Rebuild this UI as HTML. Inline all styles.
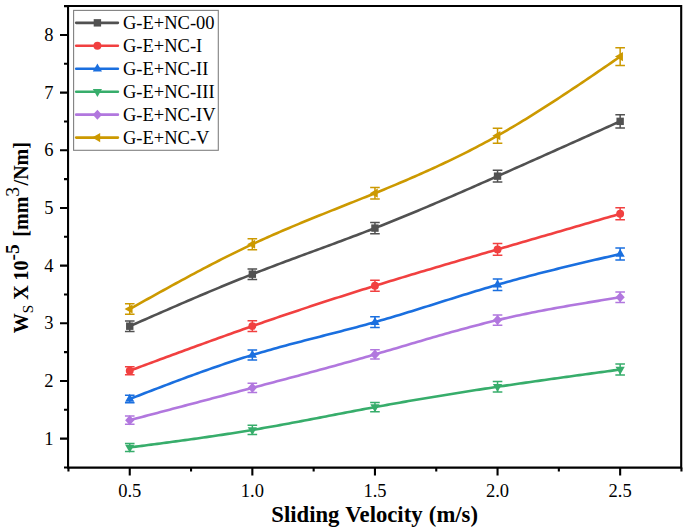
<!DOCTYPE html>
<html><head><meta charset="utf-8"><style>
html,body{margin:0;padding:0;background:#fff;}
body{width:685px;height:529px;overflow:hidden;font-family:"Liberation Serif", serif;}
svg{display:block;}
</style></head><body>
<svg width="685" height="529" viewBox="0 0 685 529">
<rect width="685" height="529" fill="#fff"/>
<path d="M129.75,326.20 L132.81,324.85 L135.88,323.50 L138.94,322.15 L142.01,320.81 L145.07,319.46 L148.14,318.11 L151.20,316.77 L154.27,315.43 L157.34,314.08 L160.40,312.74 L163.47,311.40 L166.53,310.07 L169.59,308.73 L172.66,307.40 L175.72,306.07 L178.79,304.75 L181.85,303.42 L184.92,302.10 L187.99,300.78 L191.05,299.47 L194.12,298.16 L197.18,296.85 L200.25,295.55 L203.31,294.25 L206.38,292.96 L209.44,291.67 L212.50,290.38 L215.57,289.10 L218.63,287.83 L221.70,286.56 L224.76,285.30 L227.83,284.04 L230.89,282.79 L233.96,281.54 L237.02,280.30 L240.09,279.07 L243.16,277.84 L246.22,276.62 L249.28,275.41 L252.35,274.20 L255.41,273.00 L258.48,271.81 L261.55,270.62 L264.61,269.44 L267.68,268.27 L270.74,267.10 L273.81,265.94 L276.87,264.78 L279.94,263.63 L283.00,262.48 L286.06,261.33 L289.13,260.19 L292.19,259.05 L295.26,257.91 L298.32,256.78 L301.39,255.65 L304.45,254.52 L307.52,253.39 L310.58,252.26 L313.65,251.13 L316.71,250.00 L319.78,248.87 L322.84,247.74 L325.91,246.61 L328.97,245.48 L332.04,244.35 L335.10,243.21 L338.17,242.07 L341.23,240.93 L344.30,239.79 L347.36,238.64 L350.43,237.49 L353.49,236.33 L356.56,235.18 L359.62,234.01 L362.69,232.84 L365.75,231.66 L368.82,230.48 L371.88,229.29 L374.95,228.10 L378.01,226.90 L381.08,225.69 L384.14,224.47 L387.21,223.25 L390.27,222.02 L393.34,220.79 L396.40,219.55 L399.47,218.30 L402.53,217.05 L405.60,215.79 L408.66,214.52 L411.73,213.26 L414.79,211.98 L417.86,210.70 L420.92,209.42 L423.99,208.13 L427.05,206.83 L430.12,205.53 L433.18,204.23 L436.25,202.92 L439.31,201.61 L442.38,200.30 L445.44,198.98 L448.51,197.66 L451.57,196.33 L454.64,195.00 L457.70,193.67 L460.77,192.34 L463.83,191.00 L466.90,189.66 L469.96,188.32 L473.03,186.97 L476.09,185.63 L479.16,184.28 L482.22,182.93 L485.29,181.57 L488.35,180.22 L491.42,178.86 L494.48,177.51 L497.55,176.15 L500.69,174.76 L503.84,173.36 L506.98,171.97 L510.12,170.57 L513.27,169.17 L516.41,167.78 L519.56,166.38 L522.70,164.98 L525.84,163.58 L528.99,162.18 L532.13,160.78 L535.27,159.38 L538.42,157.97 L541.56,156.57 L544.70,155.16 L547.85,153.76 L550.99,152.36 L554.13,150.95 L557.28,149.54 L560.42,148.14 L563.57,146.73 L566.71,145.32 L569.85,143.91 L573.00,142.51 L576.14,141.10 L579.28,139.69 L582.43,138.28 L585.57,136.87 L588.71,135.46 L591.86,134.05 L595.00,132.64 L598.14,131.23 L601.29,129.82 L604.43,128.41 L607.58,126.99 L610.72,125.58 L613.86,124.17 L617.01,122.76 L620.15,121.35" fill="none" stroke="#515151" stroke-width="2.6" stroke-linejoin="round" stroke-linecap="round"/>
<path d="M129.75,370.70 L132.81,369.56 L135.88,368.43 L138.94,367.29 L142.01,366.15 L145.07,365.02 L148.14,363.88 L151.20,362.74 L154.27,361.61 L157.34,360.48 L160.40,359.34 L163.47,358.21 L166.53,357.08 L169.59,355.95 L172.66,354.82 L175.72,353.69 L178.79,352.56 L181.85,351.44 L184.92,350.31 L187.99,349.19 L191.05,348.07 L194.12,346.95 L197.18,345.83 L200.25,344.71 L203.31,343.60 L206.38,342.49 L209.44,341.38 L212.50,340.27 L215.57,339.16 L218.63,338.06 L221.70,336.96 L224.76,335.86 L227.83,334.76 L230.89,333.67 L233.96,332.58 L237.02,331.49 L240.09,330.41 L243.16,329.33 L246.22,328.25 L249.28,327.17 L252.35,326.10 L255.41,325.03 L258.48,323.97 L261.55,322.90 L264.61,321.84 L267.68,320.79 L270.74,319.74 L273.81,318.69 L276.87,317.64 L279.94,316.60 L283.00,315.56 L286.06,314.52 L289.13,313.49 L292.19,312.46 L295.26,311.43 L298.32,310.41 L301.39,309.39 L304.45,308.37 L307.52,307.36 L310.58,306.34 L313.65,305.34 L316.71,304.33 L319.78,303.33 L322.84,302.33 L325.91,301.33 L328.97,300.34 L332.04,299.35 L335.10,298.36 L338.17,297.38 L341.23,296.40 L344.30,295.42 L347.36,294.45 L350.43,293.47 L353.49,292.50 L356.56,291.54 L359.62,290.57 L362.69,289.61 L365.75,288.66 L368.82,287.70 L371.88,286.75 L374.95,285.80 L378.01,284.85 L381.08,283.91 L384.14,282.97 L387.21,282.03 L390.27,281.09 L393.34,280.16 L396.40,279.23 L399.47,278.30 L402.53,277.38 L405.60,276.45 L408.66,275.53 L411.73,274.61 L414.79,273.69 L417.86,272.77 L420.92,271.86 L423.99,270.95 L427.05,270.04 L430.12,269.13 L433.18,268.22 L436.25,267.31 L439.31,266.41 L442.38,265.51 L445.44,264.60 L448.51,263.70 L451.57,262.80 L454.64,261.90 L457.70,261.01 L460.77,260.11 L463.83,259.22 L466.90,258.32 L469.96,257.43 L473.03,256.53 L476.09,255.64 L479.16,254.75 L482.22,253.86 L485.29,252.96 L488.35,252.07 L491.42,251.18 L494.48,250.29 L497.55,249.40 L500.69,248.49 L503.84,247.57 L506.98,246.66 L510.12,245.75 L513.27,244.83 L516.41,243.92 L519.56,243.01 L522.70,242.09 L525.84,241.18 L528.99,240.27 L532.13,239.35 L535.27,238.44 L538.42,237.53 L541.56,236.62 L544.70,235.70 L547.85,234.79 L550.99,233.88 L554.13,232.96 L557.28,232.05 L560.42,231.14 L563.57,230.23 L566.71,229.31 L569.85,228.40 L573.00,227.49 L576.14,226.58 L579.28,225.66 L582.43,224.75 L585.57,223.84 L588.71,222.93 L591.86,222.01 L595.00,221.10 L598.14,220.19 L601.29,219.28 L604.43,218.36 L607.58,217.45 L610.72,216.54 L613.86,215.63 L617.01,214.71 L620.15,213.80" fill="none" stroke="#F14040" stroke-width="2.6" stroke-linejoin="round" stroke-linecap="round"/>
<path d="M129.75,399.00 L132.81,397.81 L135.88,396.63 L138.94,395.45 L142.01,394.26 L145.07,393.08 L148.14,391.90 L151.20,390.72 L154.27,389.54 L157.34,388.37 L160.40,387.20 L163.47,386.03 L166.53,384.87 L169.59,383.71 L172.66,382.55 L175.72,381.40 L178.79,380.25 L181.85,379.11 L184.92,377.97 L187.99,376.84 L191.05,375.72 L194.12,374.60 L197.18,373.49 L200.25,372.39 L203.31,371.29 L206.38,370.20 L209.44,369.12 L212.50,368.05 L215.57,366.98 L218.63,365.93 L221.70,364.88 L224.76,363.84 L227.83,362.82 L230.89,361.80 L233.96,360.79 L237.02,359.80 L240.09,358.82 L243.16,357.84 L246.22,356.88 L249.28,355.94 L252.35,355.00 L255.41,354.08 L258.48,353.17 L261.55,352.27 L264.61,351.38 L267.68,350.50 L270.74,349.63 L273.81,348.78 L276.87,347.93 L279.94,347.09 L283.00,346.25 L286.06,345.43 L289.13,344.61 L292.19,343.80 L295.26,342.99 L298.32,342.19 L301.39,341.39 L304.45,340.59 L307.52,339.80 L310.58,339.01 L313.65,338.23 L316.71,337.44 L319.78,336.66 L322.84,335.88 L325.91,335.09 L328.97,334.31 L332.04,333.53 L335.10,332.74 L338.17,331.95 L341.23,331.16 L344.30,330.36 L347.36,329.56 L350.43,328.76 L353.49,327.95 L356.56,327.14 L359.62,326.32 L362.69,325.49 L365.75,324.65 L368.82,323.81 L371.88,322.96 L374.95,322.10 L378.01,321.23 L381.08,320.35 L384.14,319.46 L387.21,318.57 L390.27,317.66 L393.34,316.75 L396.40,315.84 L399.47,314.91 L402.53,313.98 L405.60,313.05 L408.66,312.11 L411.73,311.16 L414.79,310.21 L417.86,309.26 L420.92,308.30 L423.99,307.34 L427.05,306.38 L430.12,305.42 L433.18,304.46 L436.25,303.49 L439.31,302.53 L442.38,301.56 L445.44,300.59 L448.51,299.63 L451.57,298.67 L454.64,297.71 L457.70,296.75 L460.77,295.79 L463.83,294.84 L466.90,293.89 L469.96,292.94 L473.03,292.00 L476.09,291.07 L479.16,290.14 L482.22,289.22 L485.29,288.30 L488.35,287.39 L491.42,286.48 L494.48,285.59 L497.55,284.70 L500.69,283.80 L503.84,282.91 L506.98,282.02 L510.12,281.15 L513.27,280.28 L516.41,279.42 L519.56,278.57 L522.70,277.73 L525.84,276.89 L528.99,276.06 L532.13,275.24 L535.27,274.42 L538.42,273.61 L541.56,272.81 L544.70,272.01 L547.85,271.21 L550.99,270.43 L554.13,269.65 L557.28,268.87 L560.42,268.10 L563.57,267.33 L566.71,266.56 L569.85,265.81 L573.00,265.05 L576.14,264.30 L579.28,263.55 L582.43,262.80 L585.57,262.06 L588.71,261.32 L591.86,260.58 L595.00,259.84 L598.14,259.11 L601.29,258.38 L604.43,257.64 L607.58,256.91 L610.72,256.18 L613.86,255.46 L617.01,254.73 L620.15,254.00" fill="none" stroke="#1A6FDF" stroke-width="2.6" stroke-linejoin="round" stroke-linecap="round"/>
<path d="M129.75,447.45 L132.81,447.05 L135.88,446.65 L138.94,446.25 L142.01,445.85 L145.07,445.45 L148.14,445.05 L151.20,444.65 L154.27,444.25 L157.34,443.85 L160.40,443.44 L163.47,443.03 L166.53,442.63 L169.59,442.22 L172.66,441.80 L175.72,441.39 L178.79,440.97 L181.85,440.56 L184.92,440.14 L187.99,439.71 L191.05,439.29 L194.12,438.86 L197.18,438.42 L200.25,437.99 L203.31,437.55 L206.38,437.11 L209.44,436.66 L212.50,436.21 L215.57,435.76 L218.63,435.30 L221.70,434.84 L224.76,434.37 L227.83,433.90 L230.89,433.42 L233.96,432.94 L237.02,432.46 L240.09,431.97 L243.16,431.47 L246.22,430.97 L249.28,430.46 L252.35,429.95 L255.41,429.43 L258.48,428.91 L261.55,428.38 L264.61,427.84 L267.68,427.30 L270.74,426.76 L273.81,426.21 L276.87,425.66 L279.94,425.10 L283.00,424.54 L286.06,423.98 L289.13,423.41 L292.19,422.84 L295.26,422.26 L298.32,421.69 L301.39,421.11 L304.45,420.53 L307.52,419.95 L310.58,419.36 L313.65,418.78 L316.71,418.19 L319.78,417.60 L322.84,417.01 L325.91,416.42 L328.97,415.83 L332.04,415.24 L335.10,414.65 L338.17,414.06 L341.23,413.47 L344.30,412.89 L347.36,412.30 L350.43,411.71 L353.49,411.13 L356.56,410.55 L359.62,409.97 L362.69,409.39 L365.75,408.81 L368.82,408.24 L371.88,407.67 L374.95,407.10 L378.01,406.54 L381.08,405.98 L384.14,405.42 L387.21,404.86 L390.27,404.31 L393.34,403.77 L396.40,403.22 L399.47,402.68 L402.53,402.14 L405.60,401.61 L408.66,401.07 L411.73,400.54 L414.79,400.02 L417.86,399.49 L420.92,398.97 L423.99,398.46 L427.05,397.94 L430.12,397.43 L433.18,396.92 L436.25,396.41 L439.31,395.91 L442.38,395.41 L445.44,394.91 L448.51,394.41 L451.57,393.92 L454.64,393.43 L457.70,392.94 L460.77,392.45 L463.83,391.97 L466.90,391.49 L469.96,391.01 L473.03,390.53 L476.09,390.06 L479.16,389.59 L482.22,389.12 L485.29,388.65 L488.35,388.18 L491.42,387.72 L494.48,387.26 L497.55,386.80 L500.69,386.33 L503.84,385.86 L506.98,385.40 L510.12,384.94 L513.27,384.48 L516.41,384.02 L519.56,383.56 L522.70,383.10 L525.84,382.65 L528.99,382.20 L532.13,381.75 L535.27,381.30 L538.42,380.85 L541.56,380.40 L544.70,379.96 L547.85,379.52 L550.99,379.07 L554.13,378.63 L557.28,378.19 L560.42,377.75 L563.57,377.32 L566.71,376.88 L569.85,376.44 L573.00,376.01 L576.14,375.57 L579.28,375.14 L582.43,374.71 L585.57,374.28 L588.71,373.84 L591.86,373.41 L595.00,372.98 L598.14,372.55 L601.29,372.12 L604.43,371.69 L607.58,371.26 L610.72,370.84 L613.86,370.41 L617.01,369.98 L620.15,369.55" fill="none" stroke="#37AD6B" stroke-width="2.6" stroke-linejoin="round" stroke-linecap="round"/>
<path d="M129.75,420.15 L132.81,419.34 L135.88,418.54 L138.94,417.73 L142.01,416.92 L145.07,416.12 L148.14,415.31 L151.20,414.50 L154.27,413.70 L157.34,412.89 L160.40,412.08 L163.47,411.28 L166.53,410.47 L169.59,409.66 L172.66,408.86 L175.72,408.05 L178.79,407.24 L181.85,406.44 L184.92,405.63 L187.99,404.82 L191.05,404.02 L194.12,403.21 L197.18,402.40 L200.25,401.59 L203.31,400.79 L206.38,399.98 L209.44,399.17 L212.50,398.36 L215.57,397.55 L218.63,396.75 L221.70,395.94 L224.76,395.13 L227.83,394.32 L230.89,393.51 L233.96,392.70 L237.02,391.90 L240.09,391.09 L243.16,390.28 L246.22,389.47 L249.28,388.66 L252.35,387.85 L255.41,387.04 L258.48,386.23 L261.55,385.42 L264.61,384.61 L267.68,383.80 L270.74,382.99 L273.81,382.17 L276.87,381.36 L279.94,380.55 L283.00,379.73 L286.06,378.92 L289.13,378.10 L292.19,377.28 L295.26,376.46 L298.32,375.64 L301.39,374.82 L304.45,373.99 L307.52,373.17 L310.58,372.34 L313.65,371.51 L316.71,370.68 L319.78,369.84 L322.84,369.01 L325.91,368.17 L328.97,367.33 L332.04,366.49 L335.10,365.64 L338.17,364.80 L341.23,363.95 L344.30,363.09 L347.36,362.24 L350.43,361.38 L353.49,360.52 L356.56,359.66 L359.62,358.79 L362.69,357.92 L365.75,357.04 L368.82,356.17 L371.88,355.28 L374.95,354.40 L378.01,353.51 L381.08,352.62 L384.14,351.73 L387.21,350.83 L390.27,349.93 L393.34,349.03 L396.40,348.13 L399.47,347.22 L402.53,346.32 L405.60,345.42 L408.66,344.51 L411.73,343.61 L414.79,342.71 L417.86,341.81 L420.92,340.91 L423.99,340.01 L427.05,339.11 L430.12,338.22 L433.18,337.33 L436.25,336.45 L439.31,335.57 L442.38,334.69 L445.44,333.82 L448.51,332.95 L451.57,332.09 L454.64,331.24 L457.70,330.39 L460.77,329.54 L463.83,328.71 L466.90,327.88 L469.96,327.06 L473.03,326.25 L476.09,325.45 L479.16,324.65 L482.22,323.87 L485.29,323.09 L488.35,322.33 L491.42,321.57 L494.48,320.83 L497.55,320.10 L500.69,319.36 L503.84,318.63 L506.98,317.92 L510.12,317.22 L513.27,316.52 L516.41,315.84 L519.56,315.17 L522.70,314.51 L525.84,313.86 L528.99,313.22 L532.13,312.58 L535.27,311.96 L538.42,311.34 L541.56,310.74 L544.70,310.14 L547.85,309.55 L550.99,308.96 L554.13,308.38 L557.28,307.81 L560.42,307.25 L563.57,306.69 L566.71,306.14 L569.85,305.59 L573.00,305.05 L576.14,304.51 L579.28,303.98 L582.43,303.45 L585.57,302.92 L588.71,302.40 L591.86,301.88 L595.00,301.36 L598.14,300.85 L601.29,300.34 L604.43,299.83 L607.58,299.32 L610.72,298.82 L613.86,298.31 L617.01,297.80 L620.15,297.30" fill="none" stroke="#B177DE" stroke-width="2.6" stroke-linejoin="round" stroke-linecap="round"/>
<path d="M129.75,309.00 L132.81,307.29 L135.88,305.58 L138.94,303.86 L142.01,302.15 L145.07,300.45 L148.14,298.74 L151.20,297.03 L154.27,295.33 L157.34,293.63 L160.40,291.93 L163.47,290.24 L166.53,288.55 L169.59,286.87 L172.66,285.19 L175.72,283.51 L178.79,281.84 L181.85,280.18 L184.92,278.52 L187.99,276.87 L191.05,275.22 L194.12,273.58 L197.18,271.95 L200.25,270.33 L203.31,268.71 L206.38,267.11 L209.44,265.51 L212.50,263.92 L215.57,262.34 L218.63,260.77 L221.70,259.21 L224.76,257.66 L227.83,256.12 L230.89,254.59 L233.96,253.08 L237.02,251.58 L240.09,250.08 L243.16,248.61 L246.22,247.14 L249.28,245.69 L252.35,244.25 L255.41,242.83 L258.48,241.41 L261.55,240.02 L264.61,238.63 L267.68,237.26 L270.74,235.90 L273.81,234.55 L276.87,233.21 L279.94,231.88 L283.00,230.56 L286.06,229.25 L289.13,227.95 L292.19,226.65 L295.26,225.37 L298.32,224.09 L301.39,222.82 L304.45,221.56 L307.52,220.30 L310.58,219.05 L313.65,217.80 L316.71,216.56 L319.78,215.32 L322.84,214.08 L325.91,212.85 L328.97,211.62 L332.04,210.40 L335.10,209.17 L338.17,207.95 L341.23,206.73 L344.30,205.50 L347.36,204.28 L350.43,203.06 L353.49,201.84 L356.56,200.61 L359.62,199.38 L362.69,198.15 L365.75,196.92 L368.82,195.68 L371.88,194.44 L374.95,193.20 L378.01,191.95 L381.08,190.70 L384.14,189.44 L387.21,188.17 L390.27,186.90 L393.34,185.62 L396.40,184.34 L399.47,183.04 L402.53,181.74 L405.60,180.44 L408.66,179.12 L411.73,177.79 L414.79,176.46 L417.86,175.12 L420.92,173.76 L423.99,172.40 L427.05,171.02 L430.12,169.64 L433.18,168.24 L436.25,166.83 L439.31,165.41 L442.38,163.98 L445.44,162.54 L448.51,161.08 L451.57,159.61 L454.64,158.12 L457.70,156.63 L460.77,155.11 L463.83,153.58 L466.90,152.04 L469.96,150.48 L473.03,148.91 L476.09,147.32 L479.16,145.71 L482.22,144.09 L485.29,142.45 L488.35,140.79 L491.42,139.11 L494.48,137.41 L497.55,135.70 L500.69,133.92 L503.84,132.13 L506.98,130.31 L510.12,128.47 L513.27,126.62 L516.41,124.75 L519.56,122.86 L522.70,120.96 L525.84,119.04 L528.99,117.11 L532.13,115.16 L535.27,113.19 L538.42,111.21 L541.56,109.22 L544.70,107.22 L547.85,105.20 L550.99,103.17 L554.13,101.13 L557.28,99.08 L560.42,97.02 L563.57,94.95 L566.71,92.87 L569.85,90.78 L573.00,88.69 L576.14,86.58 L579.28,84.47 L582.43,82.35 L585.57,80.23 L588.71,78.10 L591.86,75.96 L595.00,73.82 L598.14,71.68 L601.29,69.53 L604.43,67.38 L607.58,65.23 L610.72,63.07 L613.86,60.92 L617.01,58.76 L620.15,56.60" fill="none" stroke="#CC9900" stroke-width="2.6" stroke-linejoin="round" stroke-linecap="round"/>
<path d="M129.75,321.00 V331.40 M124.95,321.00 H134.55 M124.95,331.40 H134.55" stroke="#515151" stroke-width="1.5" fill="none"/>
<rect x="126.05" y="322.50" width="7.40" height="7.40" fill="#515151"/>
<path d="M252.35,269.00 V279.40 M247.55,269.00 H257.15 M247.55,279.40 H257.15" stroke="#515151" stroke-width="1.5" fill="none"/>
<rect x="248.65" y="270.50" width="7.40" height="7.40" fill="#515151"/>
<path d="M374.95,222.40 V233.80 M370.15,222.40 H379.75 M370.15,233.80 H379.75" stroke="#515151" stroke-width="1.5" fill="none"/>
<rect x="371.25" y="224.40" width="7.40" height="7.40" fill="#515151"/>
<path d="M497.55,170.25 V182.05 M492.75,170.25 H502.35 M492.75,182.05 H502.35" stroke="#515151" stroke-width="1.5" fill="none"/>
<rect x="493.85" y="172.45" width="7.40" height="7.40" fill="#515151"/>
<path d="M620.15,114.80 V127.90 M615.35,114.80 H624.95 M615.35,127.90 H624.95" stroke="#515151" stroke-width="1.5" fill="none"/>
<rect x="616.45" y="117.65" width="7.40" height="7.40" fill="#515151"/>
<path d="M129.75,366.70 V374.70 M124.95,366.70 H134.55 M124.95,374.70 H134.55" stroke="#F14040" stroke-width="1.5" fill="none"/>
<circle cx="129.75" cy="370.70" r="3.95" fill="#F14040"/>
<path d="M252.35,320.80 V331.40 M247.55,320.80 H257.15 M247.55,331.40 H257.15" stroke="#F14040" stroke-width="1.5" fill="none"/>
<circle cx="252.35" cy="326.10" r="3.95" fill="#F14040"/>
<path d="M374.95,280.30 V291.30 M370.15,280.30 H379.75 M370.15,291.30 H379.75" stroke="#F14040" stroke-width="1.5" fill="none"/>
<circle cx="374.95" cy="285.80" r="3.95" fill="#F14040"/>
<path d="M497.55,243.60 V255.20 M492.75,243.60 H502.35 M492.75,255.20 H502.35" stroke="#F14040" stroke-width="1.5" fill="none"/>
<circle cx="497.55" cy="249.40" r="3.95" fill="#F14040"/>
<path d="M620.15,207.85 V219.75 M615.35,207.85 H624.95 M615.35,219.75 H624.95" stroke="#F14040" stroke-width="1.5" fill="none"/>
<circle cx="620.15" cy="213.80" r="3.95" fill="#F14040"/>
<path d="M129.75,395.30 V402.70 M124.95,395.30 H134.55 M124.95,402.70 H134.55" stroke="#1A6FDF" stroke-width="1.5" fill="none"/>
<path d="M129.75,393.80 L134.35,401.80 L125.15,401.80Z" fill="#1A6FDF"/>
<path d="M252.35,349.90 V360.10 M247.55,349.90 H257.15 M247.55,360.10 H257.15" stroke="#1A6FDF" stroke-width="1.5" fill="none"/>
<path d="M252.35,349.80 L256.95,357.80 L247.75,357.80Z" fill="#1A6FDF"/>
<path d="M374.95,316.80 V327.40 M370.15,316.80 H379.75 M370.15,327.40 H379.75" stroke="#1A6FDF" stroke-width="1.5" fill="none"/>
<path d="M374.95,316.90 L379.55,324.90 L370.35,324.90Z" fill="#1A6FDF"/>
<path d="M497.55,278.90 V290.50 M492.75,278.90 H502.35 M492.75,290.50 H502.35" stroke="#1A6FDF" stroke-width="1.5" fill="none"/>
<path d="M497.55,279.50 L502.15,287.50 L492.95,287.50Z" fill="#1A6FDF"/>
<path d="M620.15,248.05 V259.95 M615.35,248.05 H624.95 M615.35,259.95 H624.95" stroke="#1A6FDF" stroke-width="1.5" fill="none"/>
<path d="M620.15,248.80 L624.75,256.80 L615.55,256.80Z" fill="#1A6FDF"/>
<path d="M129.75,443.40 V451.50 M124.95,443.40 H134.55 M124.95,451.50 H134.55" stroke="#37AD6B" stroke-width="1.5" fill="none"/>
<path d="M129.75,452.65 L134.35,444.65 L125.15,444.65Z" fill="#37AD6B"/>
<path d="M252.35,425.30 V434.60 M247.55,425.30 H257.15 M247.55,434.60 H257.15" stroke="#37AD6B" stroke-width="1.5" fill="none"/>
<path d="M252.35,435.15 L256.95,427.15 L247.75,427.15Z" fill="#37AD6B"/>
<path d="M374.95,402.40 V411.80 M370.15,402.40 H379.75 M370.15,411.80 H379.75" stroke="#37AD6B" stroke-width="1.5" fill="none"/>
<path d="M374.95,412.30 L379.55,404.30 L370.35,404.30Z" fill="#37AD6B"/>
<path d="M497.55,381.60 V392.00 M492.75,381.60 H502.35 M492.75,392.00 H502.35" stroke="#37AD6B" stroke-width="1.5" fill="none"/>
<path d="M497.55,392.00 L502.15,384.00 L492.95,384.00Z" fill="#37AD6B"/>
<path d="M620.15,364.00 V375.10 M615.35,364.00 H624.95 M615.35,375.10 H624.95" stroke="#37AD6B" stroke-width="1.5" fill="none"/>
<path d="M620.15,374.75 L624.75,366.75 L615.55,366.75Z" fill="#37AD6B"/>
<path d="M129.75,416.00 V424.30 M124.95,416.00 H134.55 M124.95,424.30 H134.55" stroke="#B177DE" stroke-width="1.5" fill="none"/>
<path d="M129.75,415.15 L134.35,420.15 L129.75,425.15 L125.15,420.15Z" fill="#B177DE"/>
<path d="M252.35,383.30 V392.40 M247.55,383.30 H257.15 M247.55,392.40 H257.15" stroke="#B177DE" stroke-width="1.5" fill="none"/>
<path d="M252.35,382.85 L256.95,387.85 L252.35,392.85 L247.75,387.85Z" fill="#B177DE"/>
<path d="M374.95,349.70 V359.10 M370.15,349.70 H379.75 M370.15,359.10 H379.75" stroke="#B177DE" stroke-width="1.5" fill="none"/>
<path d="M374.95,349.40 L379.55,354.40 L374.95,359.40 L370.35,354.40Z" fill="#B177DE"/>
<path d="M497.55,314.90 V325.30 M492.75,314.90 H502.35 M492.75,325.30 H502.35" stroke="#B177DE" stroke-width="1.5" fill="none"/>
<path d="M497.55,315.10 L502.15,320.10 L497.55,325.10 L492.95,320.10Z" fill="#B177DE"/>
<path d="M620.15,292.05 V302.55 M615.35,292.05 H624.95 M615.35,302.55 H624.95" stroke="#B177DE" stroke-width="1.5" fill="none"/>
<path d="M620.15,292.30 L624.75,297.30 L620.15,302.30 L615.55,297.30Z" fill="#B177DE"/>
<path d="M129.75,303.80 V314.20 M124.95,303.80 H134.55 M124.95,314.20 H134.55" stroke="#CC9900" stroke-width="1.5" fill="none"/>
<path d="M124.55,309.00 L132.55,304.40 L132.55,313.60Z" fill="#CC9900"/>
<path d="M252.35,238.80 V249.70 M247.55,238.80 H257.15 M247.55,249.70 H257.15" stroke="#CC9900" stroke-width="1.5" fill="none"/>
<path d="M247.15,244.25 L255.15,239.65 L255.15,248.85Z" fill="#CC9900"/>
<path d="M374.95,187.50 V198.90 M370.15,187.50 H379.75 M370.15,198.90 H379.75" stroke="#CC9900" stroke-width="1.5" fill="none"/>
<path d="M369.75,193.20 L377.75,188.60 L377.75,197.80Z" fill="#CC9900"/>
<path d="M497.55,128.15 V143.25 M492.75,128.15 H502.35 M492.75,143.25 H502.35" stroke="#CC9900" stroke-width="1.5" fill="none"/>
<path d="M492.35,135.70 L500.35,131.10 L500.35,140.30Z" fill="#CC9900"/>
<path d="M620.15,47.80 V65.40 M615.35,47.80 H624.95 M615.35,65.40 H624.95" stroke="#CC9900" stroke-width="1.5" fill="none"/>
<path d="M614.95,56.60 L622.95,52.00 L622.95,61.20Z" fill="#CC9900"/>
<path d="M68.05,4.95 V467.6 M67.05,467.6 H682.2 M67.05,5.95 H681.2 V468.6" stroke="#000" stroke-width="2.1" fill="none"/>
<path d="M60,438.65 H68.05 M60,380.98 H68.05 M60,323.31 H68.05 M60,265.64 H68.05 M60,207.96 H68.05 M60,150.29 H68.05 M60,92.62 H68.05 M60,34.95 H68.05 M64,467.48 H68.05 M64,409.81 H68.05 M64,352.14 H68.05 M64,294.47 H68.05 M64,236.80 H68.05 M64,179.13 H68.05 M64,121.46 H68.05 M64,63.79 H68.05 M64,6.12 H68.05 M129.75,467.6 V475.6 M252.35,467.6 V475.6 M374.95,467.6 V475.6 M497.55,467.6 V475.6 M620.15,467.6 V475.6 M68.45,467.6 V471.6 M191.05,467.6 V471.6 M313.65,467.6 V471.6 M436.25,467.6 V471.6 M558.85,467.6 V471.6 M681.45,467.6 V471.6" stroke="#000" stroke-width="2.1" fill="none"/>
<g font-family="Liberation Serif" font-size="18.5" fill="#000">
<text x="53.5" y="444.65" text-anchor="end">1</text>
<text x="53.5" y="386.98" text-anchor="end">2</text>
<text x="53.5" y="329.31" text-anchor="end">3</text>
<text x="53.5" y="271.64" text-anchor="end">4</text>
<text x="53.5" y="213.96" text-anchor="end">5</text>
<text x="53.5" y="156.29" text-anchor="end">6</text>
<text x="53.5" y="98.62" text-anchor="end">7</text>
<text x="53.5" y="40.95" text-anchor="end">8</text>
<text x="129.75" y="496.8" text-anchor="middle">0.5</text>
<text x="252.35" y="496.8" text-anchor="middle">1.0</text>
<text x="374.95" y="496.8" text-anchor="middle">1.5</text>
<text x="497.55" y="496.8" text-anchor="middle">2.0</text>
<text x="620.15" y="496.8" text-anchor="middle">2.5</text>
</g>
<text x="271.3" y="521.8" font-family="Liberation Serif" font-weight="bold" font-size="22.7" word-spacing="0.6">Sliding Velocity (m/s)</text>
<g transform="translate(27.6,333.2) rotate(-90)"><text x="0" y="0" font-family="Liberation Serif" font-weight="bold" font-size="20">W<tspan font-size="15" font-weight="normal" dy="5.5">S</tspan><tspan dy="-5.5"> X 10</tspan><tspan font-size="19.5" dy="-9">-5</tspan><tspan dy="9" dx="2.5"> [mm</tspan><tspan font-size="19.5" font-weight="normal" dy="-9">3</tspan><tspan dy="9" dx="1.5">/Nm]</tspan></text></g>
<rect x="73.6" y="10.4" width="144.7" height="139.9" fill="#fff" stroke="#808080" stroke-width="1.1"/>
<path d="M76.2,22.85 H117.9" stroke="#515151" stroke-width="2.6" stroke-linecap="round"/>
<rect x="93.70" y="19.15" width="7.40" height="7.40" fill="#515151"/>
<text x="123" y="28.85" font-family="Liberation Serif" font-size="18.5">G-E+NC-00</text>
<path d="M76.2,45.80 H117.9" stroke="#F14040" stroke-width="2.6" stroke-linecap="round"/>
<circle cx="97.40" cy="45.80" r="3.95" fill="#F14040"/>
<text x="123" y="51.80" font-family="Liberation Serif" font-size="18.5">G-E+NC-I</text>
<path d="M76.2,68.75 H117.9" stroke="#1A6FDF" stroke-width="2.6" stroke-linecap="round"/>
<path d="M97.40,63.55 L102.00,71.55 L92.80,71.55Z" fill="#1A6FDF"/>
<text x="123" y="74.75" font-family="Liberation Serif" font-size="18.5">G-E+NC-II</text>
<path d="M76.2,91.70 H117.9" stroke="#37AD6B" stroke-width="2.6" stroke-linecap="round"/>
<path d="M97.40,96.90 L102.00,88.90 L92.80,88.90Z" fill="#37AD6B"/>
<text x="123" y="97.70" font-family="Liberation Serif" font-size="18.5">G-E+NC-III</text>
<path d="M76.2,114.65 H117.9" stroke="#B177DE" stroke-width="2.6" stroke-linecap="round"/>
<path d="M97.40,109.65 L102.00,114.65 L97.40,119.65 L92.80,114.65Z" fill="#B177DE"/>
<text x="123" y="120.65" font-family="Liberation Serif" font-size="18.5">G-E+NC-IV</text>
<path d="M76.2,137.60 H117.9" stroke="#CC9900" stroke-width="2.6" stroke-linecap="round"/>
<path d="M92.20,137.60 L100.20,133.00 L100.20,142.20Z" fill="#CC9900"/>
<text x="123" y="143.60" font-family="Liberation Serif" font-size="18.5">G-E+NC-V</text>
</svg>
</body></html>
